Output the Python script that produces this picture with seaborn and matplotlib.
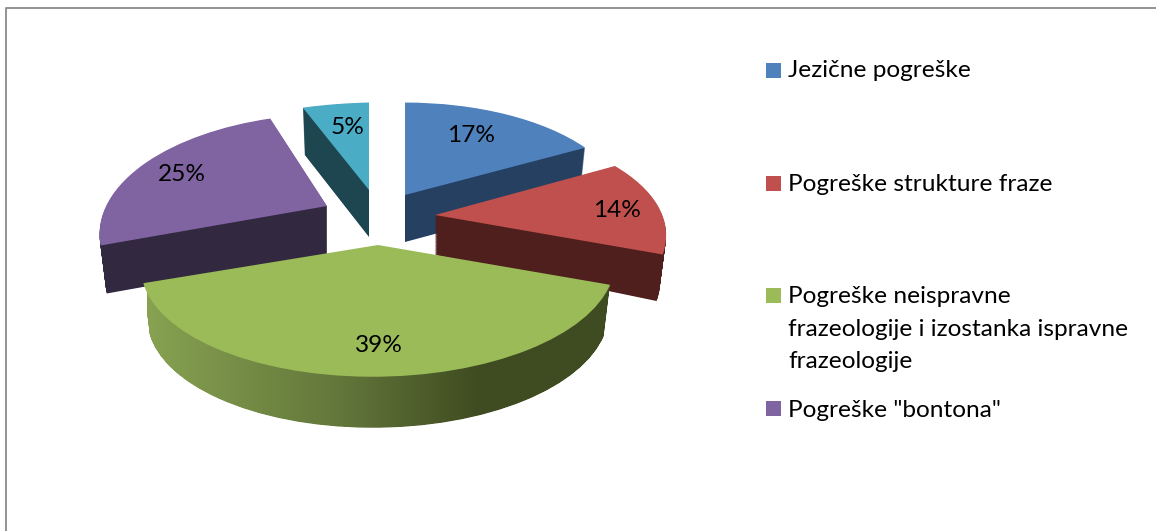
import numpy as np
import matplotlib
matplotlib.use('Agg')
import matplotlib.pyplot as plt
import seaborn as sns
from matplotlib.colors import LinearSegmentedColormap
from matplotlib.patches import PathPatch, Rectangle
from matplotlib.path import Path
from matplotlib.transforms import Transform

# Chart data
shares = [17, 14, 39, 25, 5]
legend_labels = ['Jezične pogreške', 'Pogreške strukture fraze',
                 'Pogreške neispravne\nfrazeologije i izostanka ispravne\nfrazeologije',
                 'Pogreške "bontona"']

# Colours
top_colors = ['#4f81bd', '#c0504d', '#9bbb59', '#8064a2', '#4bacc6']
side_colors = ['#254061', '#4f1f1d', '#5d7032', '#322840', '#1d4650']

# Geometry of each exploded slice, in pixels:
# tip x, tip y, x radius, y radius, perspective, tilt, depth, depth slope
slice_geometry = [
    (405, 195, 218, 104, 0.125, 0, 47, 0),
    (435, 215, 226, 106, 0.21, -3, 40, 7),
    (378, 245, 233, 108, 0.18, -3, 51, 0),
    (327, 206, 222, 112, 0.218, -2.5, 48, 0),
    (369, 190, 255, 105, 0.2, -5, 47, 0),
]
label_radius = [0.7, 0.81, 0.8, 0.77, 0.69]
label_turn = [3, -2, 2, 2.5, -1]
legend_baselines = [77, 191, 303, 417]
legend_squares = [63, 176, 288, 401]


class SliceProjection(Transform):
    # maps the unit pie plane to the page, t=0 is the top face and t=1 the bottom
    input_dims = 2
    output_dims = 2
    is_separable = False
    has_inverse = False

    def __init__(self, geometry, t=0.0):
        super().__init__()
        self.geometry = geometry
        self.t = t

    def transform_non_affine(self, values):
        values = np.asarray(values, dtype=float)
        ox, oy, rx, ry, k, tilt, depth, slope = self.geometry
        u, v = values[:, 0], values[:, 1]
        w = 1 + k * v
        x = ox + rx * u / w * (1 - 0.027 * self.t)
        y = oy - ry * v / w + tilt * u + (depth + slope * u) * self.t
        return np.column_stack([x, y])


sns.set_theme(style='white')
plt.rcParams['font.family'] = ['Lato', 'DejaVu Sans']

fig = plt.figure(figsize=(11.56, 5.31), dpi=100)
ax = fig.add_axes([0, 0, 1, 1])

# Side walls, stacked layer by layer from the bottom up
green_paths = []
for t in np.linspace(1, 0, 70)[:-1]:
    wedges, _ = ax.pie(shares, colors=side_colors, startangle=90, counterclock=False,
                       wedgeprops={'linewidth': 0, 'zorder': 1})
    for i, wedge in enumerate(wedges):
        proj = SliceProjection(slice_geometry[i], t)
        wedge.set_transform(proj + ax.transData)
        if i == 2:
            green_paths.append(proj.transform_path(wedge.get_path()))
            wedge.set_visible(False)

# Top faces with the percent labels
wedges, _, pct_texts = ax.pie(shares, colors=top_colors, startangle=90, counterclock=False,
                              autopct='%.0f%%', textprops={'fontsize': 17.6, 'color': 'black', 'zorder': 4},
                              wedgeprops={'linewidth': 0, 'zorder': 3})
for i, wedge in enumerate(wedges):
    proj = SliceProjection(slice_geometry[i])
    wedge.set_transform(proj + ax.transData)
    mid = np.deg2rad((wedge.theta1 + wedge.theta2) / 2 + label_turn[i])
    pct_texts[i].set_transform(proj + ax.transData)
    pct_texts[i].set_position((label_radius[i] * np.cos(mid), label_radius[i] * np.sin(mid)))

# Shaded wall of the big slice
shade = LinearSegmentedColormap.from_list('wall', [(0, '#87a251'), (0.42, '#62763a'), (0.72, '#3f4b20'), (1, '#3f4b20')])
wall = ax.imshow(np.linspace(0, 1, 256).reshape(1, -1), cmap=shade, aspect='auto',
                 extent=(147, 611, 431, 280), zorder=2)
clip = PathPatch(Path.make_compound_path(*green_paths), transform=ax.transData)
wall.set_clip_path(clip)

# Legend, the small slice has no entry
for i, label in enumerate(legend_labels):
    ax.add_patch(Rectangle((766, legend_squares[i]), 15, 15, facecolor=top_colors[i], linewidth=0))
    for n, line in enumerate(label.split('\n')):
        ax.text(788, legend_baselines[i] + n * 32.5, line, fontsize=17.6, color='black',
                ha='left', va='baseline')

# Outer frame, only top and left are visible
ax.plot([5.5, 5.5, 1156], [531, 7.5, 7.5], color='#8a8a8a', linewidth=1.3)

ax.set_aspect('auto')
ax.set_xlim(0, 1156)
ax.set_ylim(531, 0)
ax.axis('off')

plt.savefig('out.png', dpi=100)
